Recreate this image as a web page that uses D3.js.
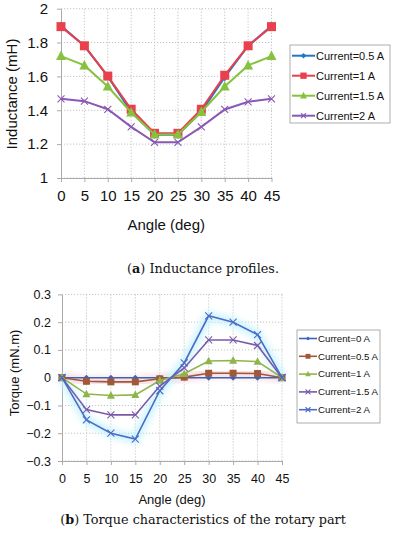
<!DOCTYPE html>
<html><head><meta charset="utf-8">
<script src="https://cdn.jsdelivr.net/npm/d3@7/dist/d3.min.js"></script>
<style>body{margin:0;background:#fff}svg{display:block}</style>
</head><body>
<svg id="c" width="393" height="550"></svg>
<script>
const angles = [0,5,10,15,20,25,30,35,40,45];
const indLabels = ["Current=0.5 A","Current=1 A","Current=1.5 A","Current=2 A"];
const ind05 = [1.90,1.78,1.60,1.39,1.255,1.255,1.39,1.595,1.78,1.90];
const ind10 = [1.894,1.781,1.602,1.406,1.264,1.264,1.406,1.607,1.781,1.894];
const ind15 = [1.72,1.665,1.54,1.387,1.257,1.257,1.39,1.54,1.665,1.72];
const ind20 = [1.468,1.454,1.406,1.302,1.211,1.211,1.302,1.405,1.45,1.468];
const indTicks = [1,1.2,1.4,1.6,1.8,2];
const torLabels = ["Current=0 A","Current=0.5 A","Current=1 A","Current=1.5 A","Current=2 A"];
const tor0  = [0,0,0,0,0,0,0,0,0,0];
const tor05 = [0,-0.013,-0.015,-0.015,-0.004,0.002,0.016,0.016,0.015,0];
const tor1  = [0,-0.059,-0.064,-0.062,-0.01,0.014,0.06,0.062,0.058,0];
const tor15 = [0,-0.115,-0.134,-0.134,-0.03,0.035,0.136,0.136,0.116,0];
const tor2  = [0,-0.152,-0.2,-0.221,-0.047,0.053,0.223,0.2,0.155,0];
const torTicks = [-0.3,-0.2,-0.1,0,0.1,0.2,0.3];

const svg = d3.select("#c");
const defs = svg.append("defs");
defs.append("filter").attr("id","glow").attr("x","-20%").attr("y","-20%").attr("width","140%").attr("height","140%")
  .append("feGaussianBlur").attr("stdDeviation",3);

function marker(g, type, x, y, color, s){
  if(type==="diamond"){
    g.append("path").attr("d",`M${x},${y-s}L${x+s},${y}L${x},${y+s}L${x-s},${y}Z`).attr("fill",color);
  } else if(type==="square"){
    g.append("rect").attr("x",x-s).attr("y",y-s).attr("width",2*s).attr("height",2*s).attr("fill",color);
  } else if(type==="triangle"){
    g.append("path").attr("d",`M${x},${y-s*1.1}L${x+s},${y+s*0.8}L${x-s},${y+s*0.8}Z`).attr("fill",color);
  } else if(type==="x"){
    g.append("path").attr("d",`M${x-s},${y-s}L${x+s},${y+s}M${x-s},${y+s}L${x+s},${y-s}`).attr("stroke",color).attr("stroke-width",1.1);
  }
}

function chart(o){
  const g = svg.append("g");
  const x = d3.scaleLinear().domain([0,45]).range([o.x0,o.x1]);
  const y = d3.scaleLinear().domain(o.ydom).range([o.y1,o.y0]);
  g.append("g").selectAll("line").data(o.yticks).join("line")
    .attr("x1",o.x0).attr("x2",o.gx1).attr("y1",d=>y(d)).attr("y2",d=>y(d))
    .attr("stroke","#c4c4c4").attr("stroke-dasharray","1.2,1.8");
  g.append("g").selectAll("line").data(angles.slice(1)).join("line")
    .attr("x1",d=>x(d)).attr("x2",d=>x(d)).attr("y1",o.y0).attr("y2",o.y1)
    .attr("stroke","#c4c4c4").attr("stroke-dasharray","1.2,1.8");
  const ax = g.append("g").attr("transform",`translate(0,${o.y1})`)
    .call(d3.axisBottom(x).tickValues(angles).tickSize(4).tickSizeOuter(0).tickPadding(o.xpad));
  ax.select(".domain").attr("stroke","#aaa");
  ax.selectAll(".tick line").attr("stroke","#aaa");
  ax.selectAll("text").attr("font-family","Liberation Sans, Arial, sans-serif").attr("font-size",o.fs).attr("fill","#111");
  const ay = g.append("g").attr("transform",`translate(${o.x0},0)`)
    .call(d3.axisLeft(y).tickValues(o.yticks).tickSize(4).tickSizeOuter(0).tickPadding(o.ypad).tickFormat(d=>d3.format("")(+d.toFixed(2))));
  ay.select(".domain").attr("stroke","#aaa");
  ay.selectAll(".tick line").attr("stroke","#aaa");
  ay.selectAll("text").attr("font-family","Liberation Sans, Arial, sans-serif").attr("font-size",o.fs).attr("fill","#111");
  g.append("text").attr("x",(o.x0+o.x1)/2+o.xtdx).attr("y",o.xty).attr("text-anchor","middle")
    .attr("font-family","Liberation Sans, Arial, sans-serif").attr("font-size",o.tfs).attr("fill","#111").text("Angle (deg)");
  g.append("text").attr("transform",`translate(${o.ytx},${o.yty}) rotate(-90)`).attr("text-anchor","middle")
    .attr("font-family","Liberation Sans, Arial, sans-serif").attr("font-size",o.tfs).attr("fill","#111").text(o.ytitle);
  const line = d3.line().x((d,i)=>x(angles[i])).y(d=>y(d));
  o.series.forEach(s=>{
    if(s.glow){
      g.append("path").datum(s.data).attr("d",line).attr("fill","none").attr("stroke",s.glow)
        .attr("stroke-width",9).attr("filter","url(#glow)").attr("opacity",0.9);
    }
  });
  o.series.forEach(s=>{
    g.append("path").datum(s.data).attr("d",line).attr("fill","none").attr("stroke",s.color).attr("stroke-width",o.lw);
    s.data.forEach((d,i)=>marker(g,s.m,x(angles[i]),y(d),s.color,s.ms));
  });
  const L = o.leg;
  g.append("rect").attr("x",L.x).attr("y",L.y).attr("width",L.w).attr("height",L.h)
    .attr("fill","#fff").attr("stroke","#999").attr("stroke-width",0.8);
  o.series.forEach((s,i)=>{
    const yy = L.y + L.first + i*L.step;
    g.append("line").attr("x1",L.x+L.l0).attr("x2",L.x+L.l1).attr("y1",yy).attr("y2",yy).attr("stroke",s.color).attr("stroke-width",o.lw);
    marker(g,s.m,L.x+(L.l0+L.l1)/2,yy,s.color,s.ms*0.7);
    g.append("text").attr("x",L.x+L.l1+1).attr("y",yy).attr("dy","0.35em")
      .attr("font-family","Liberation Sans, Arial, sans-serif").attr("font-size",L.fs).attr("fill","#111").text(s.name);
  });
  const cap = g.append("text").attr("x",203).attr("y",o.capy).attr("text-anchor","middle")
    .attr("font-family","DejaVu Serif, serif").attr("font-size",o.capfs).attr("fill","#111");
  cap.append("tspan").text("(");
  cap.append("tspan").attr("font-weight","bold").text(o.capl);
  cap.append("tspan").text(") " + o.cap);
}

chart({
  x0:61, x1:271.5, gx1:273, y0:8.7, y1:178, ydom:[1,2], yticks:indTicks,
  fs:15, tfs:15, xpad:8, ypad:9, xty:230, xtdx:0, ytx:17, yty:94, ytitle:"Inductance (mH)", lw:2,
  series:[
    {name:indLabels[0], data:ind05, color:"#2277c4", m:"diamond", ms:4},
    {name:indLabels[1], data:ind10, color:"#e8404c", m:"square", ms:4.5},
    {name:indLabels[2], data:ind15, color:"#86c23e", m:"triangle", ms:5},
    {name:indLabels[3], data:ind20, color:"#8a58b4", m:"x", ms:3.5}
  ],
  leg:{x:290, y:45, w:100, h:78, first:10.7, step:20, l0:2, l1:25, fs:11},
  capy:273, capfs:12.8, capl:"a", cap:"Inductance profiles."
});

chart({
  x0:62, x1:282, gx1:283, y0:294.4, y1:461, ydom:[-0.3,0.3], yticks:torTicks,
  fs:12.5, tfs:13, xpad:9, ypad:7, xty:504, xtdx:0, ytx:19, yty:373, ytitle:"Torque (mN.m)", lw:1.6,
  series:[
    {name:torLabels[0], data:tor0, color:"#3f63b8", m:"diamond", ms:3},
    {name:torLabels[1], data:tor05, color:"#a0583a", m:"square", ms:3.5, glow:"#f7d6dc"},
    {name:torLabels[2], data:tor1, color:"#8fb54a", m:"triangle", ms:4},
    {name:torLabels[3], data:tor15, color:"#7a5aa8", m:"x", ms:3.5},
    {name:torLabels[4], data:tor2, color:"#4a6cc6", m:"x", ms:3.5, glow:"#c9f3ff"}
  ],
  leg:{x:297, y:330, w:83, h:93, first:8.5, step:17.8, l0:2, l1:20, fs:9.7},
  capy:524, capfs:12.8, capl:"b", cap:"Torque characteristics of the rotary part"
});
</script>
</body></html>
